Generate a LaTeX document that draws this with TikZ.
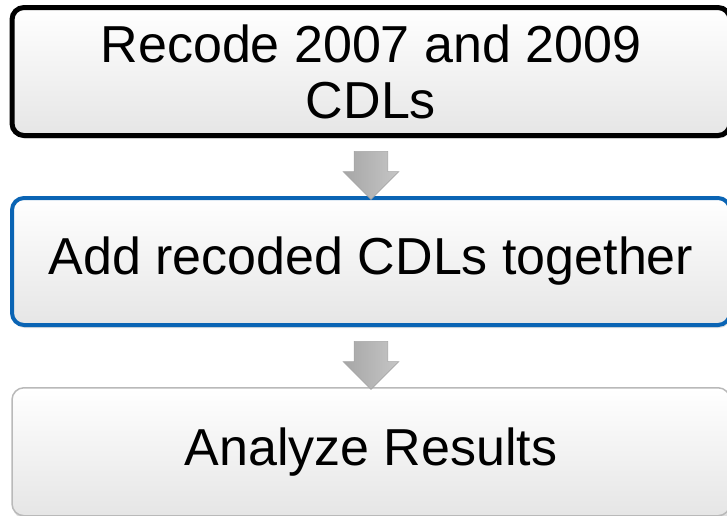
\documentclass[tikz,border=0pt]{standalone}
\usepackage{fontspec}
\setmainfont{Liberation Sans}
\usetikzlibrary{positioning,calc,shapes.arrows,shadows}
\definecolor{stepblue}{RGB}{10,100,180}

\begin{document}
\begin{tikzpicture}[
  x=1pt, y=-1pt,
  font=\fontsize{52}{56}\selectfont,
  box/.style={rounded corners=12pt, align=center, minimum width=718pt, inner sep=0pt,
    top color=white, bottom color=gray!20, drop shadow={opacity=0.25, shadow xshift=1pt, shadow yshift=-3pt}},
  topbox/.style={box, draw=black, line width=5pt, minimum height=128pt},
  midbox/.style={box, draw=stepblue, line width=4pt, minimum height=127pt},
  lastbox/.style={box, draw=gray!55, line width=1.5pt, minimum height=128pt},
  downarrow/.style={single arrow, shape border rotate=270, inner xsep=16.5pt, inner ysep=0pt,
    minimum height=48pt, single arrow head extend=11pt, draw=gray!70, line width=0.6pt,
    left color=gray!70, right color=gray!45},
]
\useasboundingbox (0,0) rectangle (727,515);
\node[topbox] (recode) at (371,71.5) {Recode 2007 and 2009\\CDLs};
\node[midbox, below=58pt of recode] (add) {Add recoded CDLs together};
\node[lastbox, below=60pt of add] (analyze) {Analyze Results};
\node[downarrow] (arrA) at ($(recode.south)!0.5!(add.north)$) {};
\node[downarrow] (arrB) at ($(add.south)!0.5!(analyze.north)$) {};
\end{tikzpicture}
\end{document}
